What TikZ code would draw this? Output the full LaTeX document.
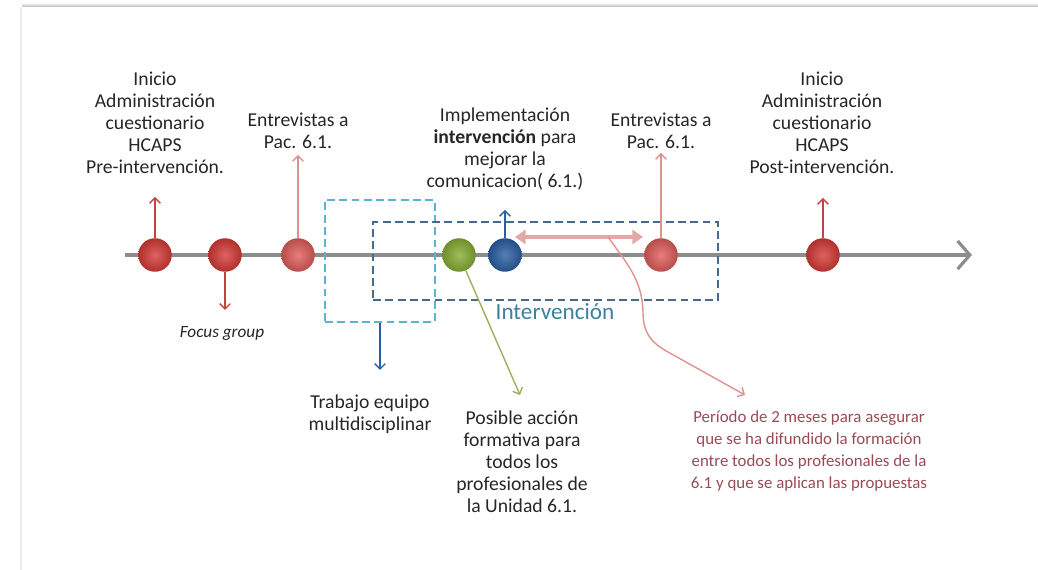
\documentclass[tikz,border=0pt]{standalone}
\usepackage{fontspec}
\setmainfont{Carlito}
\usetikzlibrary{arrows.meta,positioning,calc}
\definecolor{tlgray}{HTML}{8C8C8C}
\definecolor{tlred}{HTML}{D63B36}
\definecolor{tlpink}{HTML}{E05E5A}
\definecolor{tldark}{HTML}{C0443F}
\definecolor{tlrose}{HTML}{DE9290}
\definecolor{tlgreen}{HTML}{86AE34}
\definecolor{tlblue}{HTML}{2A5FA3}
\definecolor{tlcyan}{HTML}{5AB4CF}
\definecolor{tlnavy}{HTML}{46698C}
\definecolor{tlolive}{HTML}{9CB05E}
\definecolor{tltext}{HTML}{262626}
\definecolor{tlwine}{HTML}{9A4A55}

\begin{document}
\begin{tikzpicture}[x=0.02cm,y=0.02cm,
  hit/.style={circle,minimum size=0.67cm,inner sep=0pt,
              inner color=#1!80!white,outer color=#1!82!black},
  lbl/.style={font=\fontsize{11.2}{12.5}\selectfont,text=tltext,
              align=center,inner sep=1pt},
  tip/.style={-{Straight Barb[length=3pt,width=6pt]}},
  dbox/.style={dash pattern=on 4.5pt off 2.5pt,line width=1.3pt}
]
\useasboundingbox (0,0) rectangle (1038,570);

% ---- Frame shadow -------------------------------------------
\shade[top color=white,bottom color=black!28] (22,563) rectangle (1038,567.5);
\draw[black!7,line width=1pt] (21,563) -- (21,0);

% ---- Time axis ----------------------------------------------
\coordinate (beg) at (125,315);
\coordinate (end) at (972,315);
\draw[tlgray,line width=1.8pt,
  -{Straight Barb[length=7pt,width=16pt]}] (beg) -- (end);

% ---- Dashed phases ------------------------------------------
\node[dbox,draw=tlcyan,minimum width=2.2cm,minimum height=2.44cm]
  (tea) at (380,309) {};
\node[dbox,draw=tlnavy,minimum width=6.9cm,minimum height=1.56cm]
  (ivn) at (545.5,309) {};
\node[font=\fontsize{13.2}{15}\selectfont,text=tlnavy!85!cyan]
  (tivn) at (555,258) {Intervención};

% ---- Milestones ---------------------------------------------
\node[hit=tlred]   (pre) at (155,315) {};
\node[hit=tlred]   (fcs) at (225,315) {};
\node[hit=tlpink]  (en1) at (298,315) {};
\node[hit=tlgreen] (frm) at (459,315) {};
\node[hit=tlblue]  (imp) at (505,315) {};
\node[hit=tlpink]  (en2) at (661,315) {};
\node[hit=tlred]   (pos) at (823,315) {};

% ---- Arrow ends ---------------------------------------------
\coordinate (preu) at (155,373);
\coordinate (fcsd) at (225,260);
\coordinate (en1u) at (298,415);
\coordinate (impu) at (505,360);
\coordinate (en2u) at (661,417);
\coordinate (posu) at (823,372);
\coordinate (tead) at (380,200);
\coordinate (frmd) at (520,175);
\coordinate (pa) at (515,333);
\coordinate (pb) at (643,333);
\coordinate (pm) at (608,333);
\coordinate (pn) at (745,175);

% ---- Arrows -------------------------------------------------
\draw[tldark,thick,tip] (pre) -- (preu);
\draw[tldark,thick,tip] (fcs) -- (fcsd);
\draw[tlrose,thick,tip] (en1) -- (en1u);
\draw[tlblue,thick,tip] (imp) -- (impu);
\draw[tlrose,thick,tip] (en2) -- (en2u);
\draw[tldark,thick,tip] (pos) -- (posu);
\draw[tlblue,thick,tip] (tea) -- (tead);
\draw[tlolive,thick,tip] (frm) -- (frmd);
\draw[tlrose!80!white,line width=2.4pt,
  {Triangle[length=6pt,width=8pt]}-{Triangle[length=6pt,width=8pt]}]
  (pa) -- (pb);
\draw[tlrose,thick,tip] (pm) .. controls (628,305) and (642,290) .. (643,258)
  .. controls (643,238) and (650,228) .. (668,218) -- (pn);

% ---- Labels -------------------------------------------------
\node[lbl] (tpre) at (155,447)
  {Inicio\\Administración\\cuestionario\\HCAPS\\Pre-intervención.};
\node[lbl,font=\fontsize{9.8}{11}\selectfont\itshape] (tfcs) at (222,237)
  {Focus group};
\node[lbl] (ten1) at (298,439) {Entrevistas a\\Pac. 6.1.};
\node[lbl] (timp) at (505,421)
  {Implementación\\\textbf{intervención} para\\mejorar la\\comunicacion( 6.1.)};
\node[lbl] (ten2) at (661,439) {Entrevistas a\\Pac. 6.1.};
\node[lbl] (tpos) at (822,447)
  {Inicio\\Administración\\cuestionario\\HCAPS\\Post-intervención.};
\node[lbl] (ttea) at (370,156) {Trabajo equipo\\multidisciplinar};
\node[lbl] (tfrm) at (522,108)
  {Posible acción\\formativa para\\todos los\\profesionales de\\la Unidad 6.1.};
\node[lbl,font=\fontsize{9.6}{12.5}\selectfont,text=tlwine] (tper) at (809,119)
  {Período de 2 meses para asegurar\\que se ha difundido la formación\\entre todos los profesionales de la\\6.1 y que se aplican las propuestas};

\end{tikzpicture}
\end{document}
